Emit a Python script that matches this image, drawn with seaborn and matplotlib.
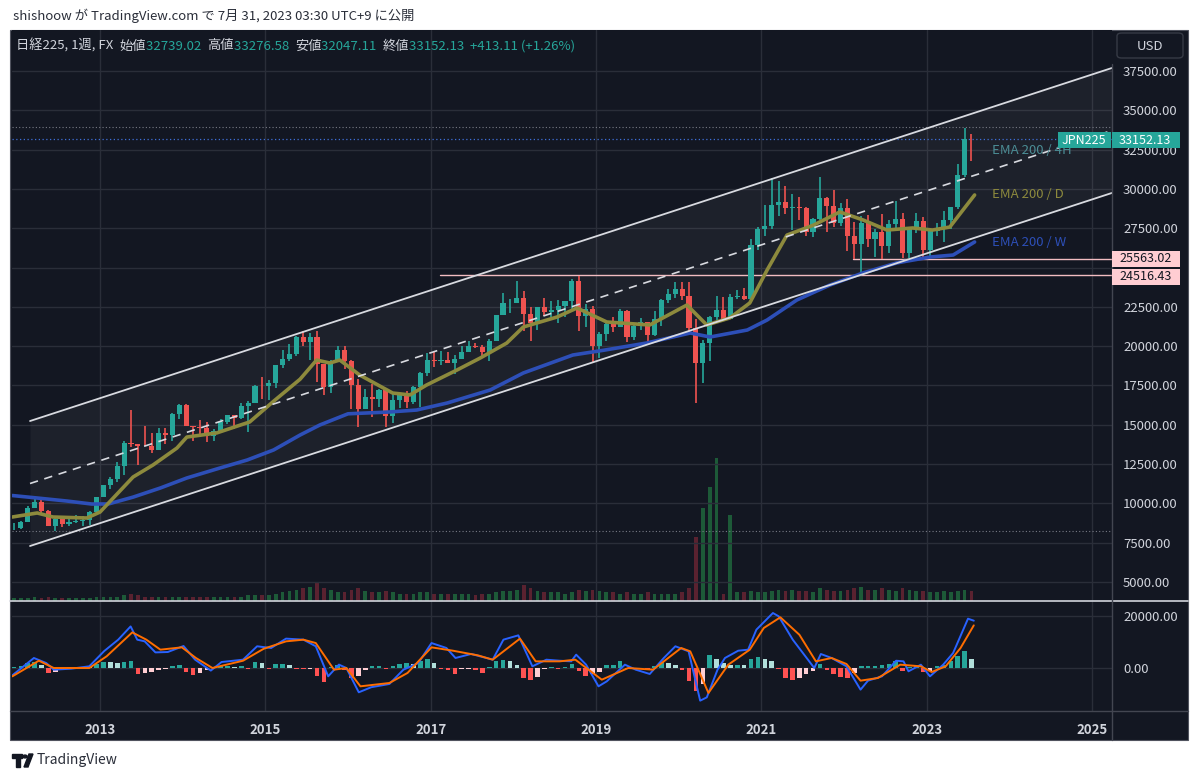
import numpy as np
import pandas as pd
import matplotlib
matplotlib.use("Agg")
import matplotlib.pyplot as plt
import seaborn as sns
from matplotlib.patches import Rectangle, FancyBboxPatch, Polygon, Circle
from matplotlib.lines import Line2D

# monthly candles, Dec 2011 .. Jul 2023
first_open = 8434
closes = [8455,
    8802, 9723, 10083, 9521, 8543, 9007, 8695, 8840, 8870, 8928, 9446, 10395,
    11139, 11559, 12398, 13861, 13775, 13677, 13668, 13389, 14456, 14328, 15662, 16291,
    14915, 14841, 14828, 14304, 14632, 15162, 15621, 15425, 16174, 16414, 17460, 17451,
    17674, 18798, 19207, 19520, 20563, 20236, 20585, 18890, 17388, 19083, 19747, 19034,
    17518, 16027, 16759, 16666, 17235, 15576, 16569, 16887, 16450, 17425, 18308, 19114,
    19041, 19119, 18909, 19197, 19651, 20033, 19925, 19646, 20356, 22012, 22725, 22765,
    23098, 22068, 21454, 22468, 22202, 22305, 22554, 22865, 24120, 21920, 22351, 20015,
    20773, 21385, 21206, 22259, 20601, 21276, 21522, 20704, 21756, 22927, 23294, 23657,
    23205, 21143, 18917, 20194, 21878, 22288, 21710, 23140, 23185, 22977, 26434, 27444,
    27663, 28966, 29179, 28813, 28860, 28792, 27284, 28090, 29453, 28893, 27822, 28792,
    27002, 26527, 27821, 26848, 27280, 26393, 27802, 28092, 25937, 27587, 27969, 26095,
    27327, 27446, 28041, 28856, 30888, 33189, 33152]
highs = [8725,
    8860, 9866, 10255, 10190, 9584, 9042, 9104, 9222, 9288, 9199, 9487, 10434,
    11192, 11662, 12650, 13997, 15942, 13800, 14953, 14466, 14817, 14799, 15749, 16320,
    16320, 14944, 15312, 15164, 14743, 15376, 15646, 15588, 16375, 16533, 17520, 18030,
    17850, 18826, 19778, 20133, 20655, 20952, 20850, 20946, 18771, 19135, 20012, 20012,
    19100, 17905, 17291, 17613, 17251, 17260, 16938, 17023, 17153, 17487, 18366, 19592,
    19615, 19668, 19656, 19445, 19999, 20318, 20230, 20080, 20481, 22012, 23382, 23000,
    24129, 23486, 22502, 22468, 23050, 22879, 22949, 22896, 24306, 24448, 22698, 22574,
    20892, 21556, 21860, 22362, 22307, 21464, 21823, 21540, 22255, 22974, 23608, 24091,
    24115, 24083, 21719, 20365, 21916, 23178, 23111, 23338, 23564, 23725, 26834, 27568,
    28979, 30714, 30485, 30208, 29685, 29480, 28875, 28139, 30795, 29489, 29960, 29121,
    29388, 27880, 28252, 28338, 27458, 28389, 28002, 29222, 28458, 27600, 28502, 28226,
    27500, 27821, 28623, 28879, 31560, 33900, 33500]
lows = [8297,
    8349, 8790, 9702, 9388, 8542, 8238, 8488, 8572, 8781, 8534, 8619, 9439,
    10390, 10944, 11381, 11805, 13556, 12415, 13668, 13188, 13388, 13749, 13963, 15383,
    14914, 13995, 14203, 13885, 13964, 14632, 15071, 14753, 15386, 14529, 16400, 16672,
    16592, 17335, 18617, 19034, 19380, 19990, 19115, 17714, 16901, 17051, 19057, 18562,
    16017, 14865, 15977, 15471, 16106, 14864, 15124, 16052, 16097, 16342, 16111, 18136,
    18650, 18805, 18909, 18224, 19190, 19640, 19862, 19280, 19081, 20350, 21972, 22106,
    22765, 20950, 20347, 21055, 21931, 21857, 21462, 21852, 22307, 20971, 21243, 18949,
    19241, 20315, 20911, 21200, 20289, 20409, 21046, 20110, 20630, 21276, 22726, 23044,
    22951, 20916, 16358, 17646, 19074, 21529, 21710, 21901, 23026, 22948, 22948, 26112,
    27002, 27448, 28308, 28419, 27385, 28010, 27012, 26954, 28030, 27294, 27589, 27642,
    26044, 25563, 24516, 26304, 25688, 25560, 25935, 27540, 25621, 25621, 27211, 25661,
    25661, 27040, 26632, 27427, 28700, 30749, 31791]
volumes = [2,
    2, 2, 3, 2, 3, 2, 2, 2, 2, 2, 2, 3,
    3, 3, 3, 4, 5, 4, 3, 3, 3, 3, 3, 3,
    3, 3, 3, 3, 3, 3, 3, 3, 3, 4, 4, 4,
    4, 5, 6, 7, 8, 9, 10, 13, 9, 8, 6, 6,
    8, 9, 7, 6, 6, 7, 6, 5, 5, 5, 6, 6,
    5, 5, 5, 5, 5, 5, 4, 5, 5, 6, 7, 7,
    8, 11, 9, 7, 6, 6, 6, 5, 6, 8, 7, 8,
    7, 6, 6, 5, 6, 5, 5, 6, 5, 5, 5, 5,
    6, 9, 45, 65, 80, 100, 5, 60, 6, 6, 7, 6,
    6, 7, 8, 7, 8, 7, 7, 6, 9, 8, 7, 7,
    8, 9, 10, 8, 8, 9, 8, 7, 9, 8, 7, 7,
    6, 6, 7, 6, 7, 8, 7]
macd_hist = [300,
    800, 1800, 2300, 1200, -2000, -1500, -400, 300, 500, 400, 300, 1500,
    2300, 2200, 2000, 2300, 2500, -2500, -2000, -1500, -800, -400, 900, 1000,
    -1500, -2800, -2000, -800, 400, 600, 700, 500, 600, -300, 2300, 1800,
    -300, 1400, 1500, 1200, -300, -400, -300, -3000, -5500, 500, 1200, -600,
    -3800, -3000, -600, 600, 700, -300, 900, 1500, 1900, 1500, 2500, 3500,
    2000, -500, -800, -2500, -400, -300, -600, -2000, 500, 2800, 3200, 2500,
    1200, -4000, -4800, -3500, -500, 300, -300, 300, 1500, -1000, -3200, -2500,
    -1500, 1000, 1300, 2500, -400, -500, -300, -400, 800, 2300, 1800, 1000,
    -800, -5000, -9000, -6000, 5000, 3500, 2000, 1000, 1200, 1000, 3500, 4100,
    3500, 2500, -500, -4000, -4500, -4000, -2500, -1000, 1500, -600, -2500, -3500,
    -3800, -2000, 600, 700, 800, 1000, 1500, 2500, -1000, 500, 600, -1500,
    -1200, 800, 1200, 2500, 4500, 6600, 3500]

# EMA 200 lines (decimal year, price)
ema_w_t = [2011.94, 2012.24, 2012.6, 2012.9, 2013.1, 2013.4, 2013.73, 2014.05, 2014.45,
           2014.78, 2015.1, 2015.42, 2015.66, 2016.0, 2016.5, 2016.83, 2017.2, 2017.72,
           2018.12, 2018.72, 2019.1, 2019.61, 2020.14, 2020.38, 2020.83, 2021.07, 2021.43,
           2021.83, 2022.23, 2022.64, 2023.04, 2023.32, 2023.58]
ema_w = [10500, 10343, 10150, 9960, 9962, 10400, 10980, 11616, 12250, 12760, 13400, 14350,
         14990, 15700, 15814, 15940, 16387, 17214, 18295, 19440, 19750, 20200, 20840, 20585,
         21030, 21667, 22940, 23890, 24660, 25300, 25670, 25800, 26630]
ema_d_t = [2011.94, 2012.24, 2012.43, 2012.84, 2013.0, 2013.4, 2013.64, 2013.93, 2014.05,
           2014.41, 2014.81, 2015.1, 2015.42, 2015.62, 2015.78, 2015.9, 2016.14, 2016.54,
           2016.75, 2016.95, 2017.32, 2017.6, 2017.92, 2018.12, 2018.53, 2018.77, 2019.13,
           2019.65, 2020.1, 2020.34, 2020.62, 2020.86, 2021.07, 2021.31, 2021.63, 2021.95,
           2022.23, 2022.52, 2022.83, 2023.07, 2023.28, 2023.44, 2023.58]
ema_d = [9135, 9390, 9135, 9070, 9450, 11680, 12440, 13520, 14220, 14480, 15180, 16500,
         17900, 19120, 18930, 19120, 18170, 17020, 16900, 17530, 18490, 19250, 20200, 21220,
         21860, 22430, 21540, 21350, 22620, 21350, 21800, 22750, 24850, 27070, 27700, 28540,
         28030, 27390, 27520, 27390, 27580, 28670, 29620]

# MACD / signal
macd_t = [2011.94, 2012.2, 2012.35, 2012.44, 2012.65, 2012.87, 2013.05, 2013.22, 2013.37,
          2013.45, 2013.54, 2013.67, 2013.82, 2014.01, 2014.15, 2014.34, 2014.47, 2014.73,
          2014.9, 2015.07, 2015.25, 2015.46, 2015.61, 2015.76, 2015.89, 2015.98, 2016.13,
          2016.28, 2016.5, 2016.67, 2016.85, 2017.01, 2017.19, 2017.3, 2017.49, 2017.75,
          2017.88, 2018.06, 2018.23, 2018.4, 2018.56, 2018.7, 2018.76, 2018.88, 2019.03,
          2019.13, 2019.35, 2019.48, 2019.65, 2019.82, 2019.96, 2020.12, 2020.26, 2020.34,
          2020.47, 2020.56, 2020.72, 2020.84, 2020.94, 2021.14, 2021.21, 2021.38, 2021.64,
          2021.72, 2021.85, 2022.03, 2022.2, 2022.29, 2022.46, 2022.63, 2022.72, 2022.78,
          2022.93, 2023.04, 2023.2, 2023.32, 2023.5, 2023.57]
macd_line = [-2800, 3850, 1900, -650, -270, 650, 6500, 10900, 16000, 10900, 10250, 6000,
             6150, 8460, 3200, -1000, 2300, 3200, 8350, 7700, 11300, 10900, 8350, -3200,
             1300, 0, -9350, -7400, -6150, -650, 1900, 9600, 7700, 3850, 5400, 3200, 10900,
             12560, 650, 3200, 2800, 2560, 5130, 1280, -7050, -5130, 1280, -640, -2300,
             3850, 8350, 6400, -12560, -11300, -650, 3850, 6650, 7050, 14740, 21150, 19880,
             10900, 0, 5380, 3850, 640, -8330, -4870, -3200, 2800, 2560, -1280, 1280,
             -3200, 1280, 5770, 18970, 18200]
signal_t = [2011.94, 2012.26, 2012.44, 2012.87, 2013.08, 2013.39, 2013.56, 2013.73, 2013.99,
            2014.16, 2014.36, 2014.73, 2014.98, 2015.25, 2015.46, 2015.61, 2015.83, 2015.98,
            2016.15, 2016.5, 2016.72, 2017.01, 2017.27, 2017.57, 2017.75, 2018.08, 2018.27,
            2018.56, 2018.75, 2019.07, 2019.39, 2019.69, 2020.03, 2020.14, 2020.36, 2020.6,
            2020.86, 2021.03, 2021.23, 2021.46, 2021.66, 2021.85, 2022.03, 2022.2, 2022.41,
            2022.68, 2022.93, 2023.06, 2023.23, 2023.41, 2023.57]
signal_line = [-3200, 2800, 0, 0, 4500, 13700, 10900, 7050, 7950, 3850, 0, 2800, 7400,
               10250, 10900, 9600, -650, 0, -7050, -5770, -1900, 7950, 6650, 4870, 3200,
               11300, 2560, 2560, 3200, -4490, 0, -650, 7700, 6400, -9600, 1280, 7050,
               15400, 19500, 12800, 2560, 3850, 1540, -4870, -3850, 1280, 640, -1540, 640,
               7700, 16400]

# drawing tools
channel_t = [2012.153, 2025.242]
channel_upper = [15240, 37700]
channel_lower = [7290, 29750]
support_levels = [25563.02, 24516.43]
support_start = [2022.11, 2017.11]
last_price = 33152.13
range_high = 33944
range_low = 8244

price_ticks = list(range(5000, 37501, 2500))
hidden_ticks = [25000]  # covered by the level tags on the right axis
year_ticks = [2013, 2015, 2017, 2019, 2021, 2023, 2025]

sns.set_theme(style="dark")
plt.rcParams['font.family'] = ['Noto Sans CJK JP', 'DejaVu Sans']

BG = '#131722'
GRID = '#2a2e39'
TXT = '#d1d4dc'
UP = '#26a69a'
DOWN = '#ef5350'
W, H = 1200, 779


def fx(px):
    return px / W


def fy(py):
    return 1 - py / H


fig = plt.figure(figsize=(12, 7.79), dpi=100, facecolor='white')
fig.patches.append(Rectangle((fx(10), fy(740)), 1178 / W, 710 / H, transform=fig.transFigure,
                             facecolor=BG, edgecolor='#50535e', lw=0.8, zorder=-5))

rect_main = [fx(12), fy(601), 1100 / W, 571 / H]
rect_macd = [fx(12), fy(711), 1100 / W, 110 / H]
xlim = (2011.935, 2025.242)

axv = fig.add_axes(rect_main, facecolor=BG)
ax = fig.add_axes(rect_main, facecolor='none')
axm = fig.add_axes(rect_macd, facecolor=BG)

# candles
n = len(closes)
t = 2011 + 11 / 12 + np.arange(n) / 12 + 1 / 24
c = np.array(closes, float)
o = np.concatenate([[first_open], c[:-1]])
hi = np.array(highs, float)
lo = np.array(lows, float)
up = c >= o
cols = np.where(up, UP, DOWN)

# volume overlay (own scale, bottom of the price pane)
vcols = np.where(up, '#1d5a38', '#5a2230')
axv.bar(t, volumes, width=0.045, color=vcols, linewidth=0)
axv.set_xlim(*xlim)
axv.set_ylim(0, 100 * 571 / 143)
axv.set_xticks([])
axv.set_yticks([])
for s in axv.spines.values():
    s.set_visible(False)

ax.set_xlim(*xlim)
ax.set_ylim(3791, 40115)
ax.set_xticks(year_ticks)
ax.set_yticks(price_ticks)
ax.grid(True, color=GRID, lw=1, zorder=0)
ax.set_axisbelow(True)

ax.fill_between(channel_t, channel_lower, channel_upper, color='white', alpha=0.045, lw=0, zorder=1)
ch_mid = (np.array(channel_upper) + np.array(channel_lower)) / 2
ax.plot(channel_t, channel_upper, color='#d8dae0', lw=1.3, zorder=6)
ax.plot(channel_t, channel_lower, color='#d8dae0', lw=1.3, zorder=6)
ax.plot(channel_t, ch_mid, color='#d8dae0', lw=1.2, ls=(0, (5, 4)), zorder=6)

for lvl, st in zip(support_levels, support_start):
    ax.plot([st, xlim[1]], [lvl, lvl], color='#f2bcc1', lw=1, zorder=2)

ax.axhline(range_high, color='#787b86', lw=0.8, ls=(0, (1, 2)), zorder=2)
ax.axhline(range_low, color='#787b86', lw=0.8, ls=(0, (1, 2)), zorder=2)
ax.axhline(last_price, color='#3f6fd8', lw=0.9, ls=(0, (1, 2)), zorder=2)

ax.vlines(t, lo, hi, colors=cols, lw=1.2, zorder=3)
ax.bar(t, np.abs(c - o), bottom=np.minimum(o, c), width=0.062, color=cols, linewidth=0, zorder=3)

ema_df_w = pd.DataFrame({'t': ema_w_t, 'v': ema_w})
ema_df_d = pd.DataFrame({'t': ema_d_t, 'v': ema_d})
sns.lineplot(data=ema_df_w, x='t', y='v', ax=ax, color='#2d4fb8', lw=2.6, zorder=4)
sns.lineplot(data=ema_df_d, x='t', y='v', ax=ax, color='#8d8a3d', lw=2.6, zorder=4)

ax.set_xlabel('')
ax.set_ylabel('')
ax.yaxis.tick_right()
ax.set_yticklabels(['' if v in hidden_ticks else f"{v:.2f}" for v in price_ticks])
ax.tick_params(axis='y', length=0, pad=8, labelsize=9.5, labelcolor=TXT)
ax.tick_params(axis='x', length=0, labelbottom=False)
for s in ax.spines.values():
    s.set_visible(False)

# MACD pane
hist = np.array(macd_hist, float)
prev = np.concatenate([[hist[0]], hist[:-1]])
hcols = np.where(hist >= 0, np.where(hist >= prev, '#26a69a', '#b2dfdb'),
                 np.where(hist < prev, '#ff5252', '#ffcdd2'))
axm.bar(t, hist, width=0.055, color=hcols, linewidth=0, zorder=2)
sns.lineplot(x=macd_t, y=macd_line, ax=axm, color='#2962ff', lw=1.4, zorder=3)
sns.lineplot(x=signal_t, y=signal_line, ax=axm, color='#ff6d00', lw=1.4, zorder=4)
axm.set_xlim(*xlim)
axm.set_ylim(-16540, 25770)
axm.set_xticks(year_ticks)
axm.set_xticklabels([str(y) for y in year_ticks], fontweight='bold')
axm.set_yticks([0, 20000])
axm.set_yticklabels(['0.00', '20000.00'])
axm.yaxis.tick_right()
axm.grid(True, color=GRID, lw=1, zorder=0)
axm.set_axisbelow(True)
axm.tick_params(axis='y', length=0, pad=8, labelsize=9.5, labelcolor=TXT)
axm.tick_params(axis='x', length=0, pad=9, labelsize=9.5, labelcolor=TXT)
axm.set_xlabel('')
axm.set_ylabel('')
for s in axm.spines.values():
    s.set_visible(False)

# pane separators
fig.lines.append(Line2D([fx(10), fx(1188)], [fy(601), fy(601)], transform=fig.transFigure,
                        color='#d1d4dc', lw=1.2))
fig.lines.append(Line2D([fx(10), fx(1188)], [fy(711), fy(711)], transform=fig.transFigure,
                        color='#434651', lw=1))
fig.lines.append(Line2D([fx(1112), fx(1112)], [fy(740), fy(64)], transform=fig.transFigure,
                        color='#434651', lw=1))

# EMA labels (drawn before the price tags so the tags sit on top)
fig.text(fx(992), fy(151), 'EMA 200 / 4H', color='#4b8d95', fontsize=9.5, va='center', zorder=3)
fig.text(fx(992), fy(195), 'EMA 200 / D', color='#8d8a3d', fontsize=9.5, va='center')
fig.text(fx(992), fy(242), 'EMA 200 / W', color='#2d4fb8', fontsize=9.5, va='center')


# right-axis price labels
def price_tag(y_px, text, face, tcolor, x0=1112, x1=1180):
    fig.patches.append(Rectangle((fx(x0), fy(y_px + 8)), (x1 - x0) / W, 16 / H,
                                 transform=fig.transFigure, facecolor=face, edgecolor='none', zorder=5))
    fig.text(fx(x0 + 7), fy(y_px), text, color=tcolor, fontsize=9, va='center', ha='left', zorder=6)


price_tag(140, '33152.13', '#26a69a', 'white')
price_tag(259, '25563.02', '#ffcdd2', '#131722')
price_tag(277, '24516.43', '#ffcdd2', '#131722')
fig.patches.append(Rectangle((fx(1058), fy(148)), 53 / W, 16 / H, transform=fig.transFigure,
                             facecolor='#26a69a', edgecolor='none', zorder=5))
fig.text(fx(1084), fy(140), 'JPN225', color='white', fontsize=9, va='center', ha='center', zorder=6)

fig.patches.append(FancyBboxPatch((fx(1117), fy(58)), 66 / W, 25 / H, transform=fig.transFigure,
                                  boxstyle='round,pad=0,rounding_size=0.004',
                                  facecolor=BG, edgecolor='#363a45', lw=1, zorder=5))
fig.text(fx(1137), fy(46), 'USD', color=TXT, fontsize=9.5, va='center', ha='left', zorder=6)

# header texts
fig.text(fx(13), fy(16), 'shishoow が TradingView.com で 7月 31, 2023 03:30 UTC+9 に公開',
         color='#2a2e39', fontsize=9.5, va='center', ha='left')

legend_parts = [('日経225, 1週, FX  ', TXT), ('始値', TXT), ('32739.02  ', UP),
                ('高値', TXT), ('33276.58  ', UP), ('安値', TXT), ('32047.11  ', UP),
                ('終値', TXT), ('33152.13  ', UP), ('+413.11 (+1.26%)', UP)]
renderer = fig.canvas.get_renderer()
xpos = 16
for s, col in legend_parts:
    tx = fig.text(fx(xpos), fy(46), s, color=col, fontsize=9.5, va='center', ha='left')
    xpos += tx.get_window_extent(renderer=renderer).width

# footer logo
logo = '#131722'
fig.patches.append(Rectangle((fx(12), fy(758)), 10 / W, 4 / H, transform=fig.transFigure, color=logo))
fig.patches.append(Rectangle((fx(16), fy(767)), 4 / W, 12 / H, transform=fig.transFigure, color=logo))
fig.patches.append(Circle((fx(25), fy(756.5)), 2.2 / W, transform=fig.transFigure, color=logo))
fig.patches.append(Polygon([(fx(24), fy(767)), (fx(28), fy(767)), (fx(33), fy(754)), (fx(29), fy(754))],
                           closed=True, transform=fig.transFigure, color=logo))
fig.text(fx(37), fy(760), 'TradingView', color='#2a2e39', fontsize=10, va='center', ha='left')

fig.savefig('out.png', dpi=100, facecolor='white')
